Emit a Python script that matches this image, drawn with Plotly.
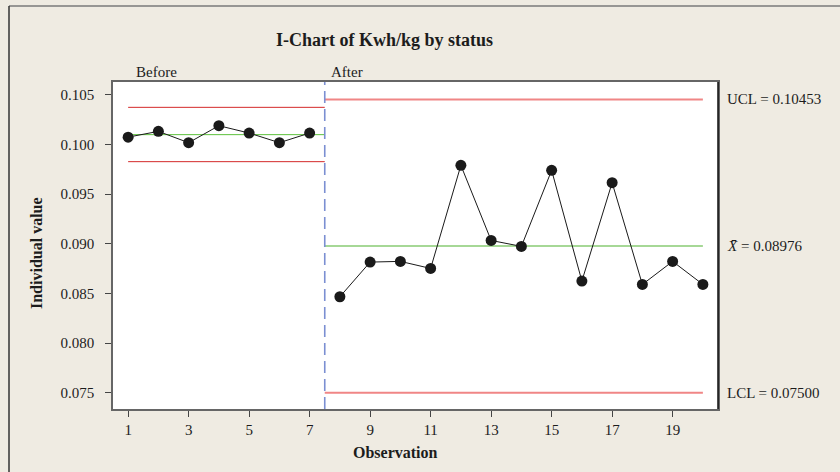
import plotly.graph_objects as go

# ---- data ----
obs_before = [1, 2, 3, 4, 5, 6, 7]
val_before = [0.10073, 0.10131, 0.10017, 0.10188, 0.10114, 0.10017, 0.10114]
obs_after = [8, 9, 10, 11, 12, 13, 14, 15, 16, 17, 18, 19, 20]
val_after = [0.08466, 0.08815, 0.08822, 0.08751, 0.09789, 0.09033, 0.08973,
             0.09739, 0.08624, 0.09614, 0.08590, 0.08822, 0.08590]
ucl_before, mean_before, lcl_before = 0.10373, 0.10098, 0.09826
ucl_after, mean_after, lcl_after = 0.10453, 0.08976, 0.07500
x_ticks = [1, 3, 5, 7, 9, 11, 13, 15, 17, 19]
y_ticks = [0.075, 0.080, 0.085, 0.090, 0.095, 0.100, 0.105]
stage_labels = ["Before", "After"]
title_text = "I-Chart of Kwh/kg by status"

# ---- layout constants ----
W, H = 840, 472
ML, MR, MT, MB = 113, 122, 82, 63
PW, PH = W - ML - MR, H - MT - MB
SERIF = "Liberation Serif"
BG = "#efebe2"
TXT = "#1c1c1c"


def px_x(p):  # pixel x -> paper
    return (p - ML) / PW


def px_y(p):  # pixel y (from top) -> paper
    return (H - MB - p) / PH


split = (obs_before[-1] + obs_after[0]) / 2

fig = go.Figure()

# control limit lines - before
for val, col, w in [(ucl_before, "#d42a2a", 1), (lcl_before, "#d42a2a", 1), (mean_before, "#5cc03c", 1)]:
    fig.add_trace(go.Scatter(x=[obs_before[0], split], y=[val, val], mode="lines",
                             line=dict(color=col, width=w), hoverinfo="skip"))
# control limit lines - after
for val, col, w in [(ucl_after, "#f08686", 2), (lcl_after, "#f08686", 2), (mean_after, "#a6d896", 2)]:
    fig.add_trace(go.Scatter(x=[split, obs_after[-1]], y=[val, val], mode="lines",
                             line=dict(color=col, width=w), hoverinfo="skip"))

# data
for xs, ys in [(obs_before, val_before), (obs_after, val_after)]:
    fig.add_trace(go.Scatter(x=xs, y=ys, mode="lines+markers",
                             line=dict(color="#1a1a1a", width=1),
                             marker=dict(color="#1a1a1a", size=11, symbol="circle")))

# stage divider
fig.add_shape(type="line", xref="x", yref="paper", x0=split, x1=split, y0=0, y1=1,
              line=dict(color="#7b8fd2", width=1.6, dash="12px,6px"))
# right black border of plot
fig.add_shape(type="line", xref="paper", yref="paper", x0=1, x1=1, y0=0, y1=1,
              line=dict(color="#111111", width=1.5))
# outer frame (top & left)
fig.add_shape(type="line", xref="paper", yref="paper", x0=px_x(9), x1=px_x(W + 5),
              y0=px_y(6), y1=px_y(6), line=dict(color="#7a7a7a", width=1.5))
fig.add_shape(type="line", xref="paper", yref="paper", x0=px_x(9), x1=px_x(9),
              y0=px_y(6), y1=px_y(H + 5), line=dict(color="#333333", width=1.5))

ann = []
ann.append(dict(text="<b>" + title_text + "</b>", xref="paper", yref="paper",
                x=px_x(384), y=px_y(40), showarrow=False, xanchor="center", yanchor="middle",
                font=dict(family=SERIF, size=18, color=TXT)))
ann.append(dict(text=stage_labels[0], xref="x", yref="paper", x=obs_before[0], y=px_y(72),
                showarrow=False, xanchor="left", yanchor="middle", xshift=6,
                font=dict(family=SERIF, size=15, color=TXT)))
ann.append(dict(text=stage_labels[1], xref="x", yref="paper", x=split, y=px_y(72),
                showarrow=False, xanchor="left", yanchor="middle", xshift=4,
                font=dict(family=SERIF, size=15, color=TXT)))
for label, val in [("UCL = %.5f" % ucl_after, ucl_after),
                   ("<i>X\u0304</i> = %.5f" % mean_after, mean_after),
                   ("LCL = %.5f" % lcl_after, lcl_after)]:
    ann.append(dict(text=label, xref="paper", yref="y", x=1, y=val, showarrow=False,
                    xanchor="left", yanchor="middle", xshift=7,
                    font=dict(family=SERIF, size=15, color=TXT)))
ann.append(dict(text="<b>Observation</b>", xref="paper", yref="paper", x=px_x(395), y=px_y(452),
                showarrow=False, xanchor="center", yanchor="middle",
                font=dict(family=SERIF, size=16, color=TXT)))
ann.append(dict(text="<b>Individual value</b>", xref="paper", yref="paper", x=px_x(36), y=px_y(253),
                showarrow=False, xanchor="center", yanchor="middle", textangle=-90,
                font=dict(family=SERIF, size=16, color=TXT)))

fig.update_layout(
    width=W, height=H,
    margin=dict(l=ML, r=MR, t=MT, b=MB),
    paper_bgcolor=BG, plot_bgcolor="white",
    showlegend=False,
    annotations=ann,
    font=dict(family=SERIF, size=15, color=TXT),
)
fig.update_xaxes(range=[0.5, 20.5], tickvals=x_ticks, ticks="outside", ticklen=6,
                 tickcolor="#444", showgrid=False, zeroline=False, showline=True,
                 linecolor="#666", linewidth=1.5, mirror=True,
                 tickfont=dict(family=SERIF, size=15, color=TXT))
fig.update_yaxes(range=[0.07336, 0.10628], tickvals=y_ticks, tickformat=".3f",
                 ticks="outside", ticklen=6, tickcolor="#444", showgrid=False, zeroline=False,
                 showline=True, linecolor="#666", linewidth=1.5, mirror=True,
                 ticklabelstandoff=8,
                 tickfont=dict(family=SERIF, size=15, color=TXT))

fig.write_html("out.html", config={"displayModeBar": False},
               post_script="document.body.style.margin='0';document.body.style.padding='0';")
